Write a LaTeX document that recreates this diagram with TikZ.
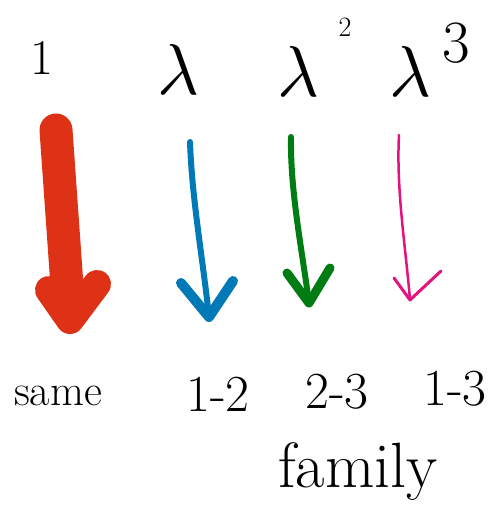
\documentclass[tikz,border=0pt]{standalone}
\usepackage{fontspec}
\usepackage{tikz}
\definecolor{cred}{RGB}{222,50,22}
\definecolor{cblue}{RGB}{0,122,182}
\definecolor{cgreen}{RGB}{0,125,18}
\definecolor{cpink}{RGB}{228,18,126}
\tikzset{
  lbl/.style={inner sep=0pt, font=\fontsize{52}{58}\selectfont},
  toplbl/.style={inner sep=0pt, font=\fontsize{50}{56}\selectfont},
  lam/.style={inner sep=0pt, scale=7.2},
  supl/.style={inner sep=0pt, font=\fontsize{28}{32}\selectfont},
  arr/.style={line cap=round, line join=round},
}
\begin{document}
\begin{tikzpicture}[x=1pt,y=-1pt]
\useasboundingbox (0,0) rectangle (497,508);
% top labels
\node[toplbl] (t1) at (42,58) {1};
\node[lam] (t2) at (178,70) {$\lambda$};
\node[lam] (t3) at (298,72) {$\lambda$};
\node[supl] (t3s) at (345,27) {2};
\node[lam] (t4) at (410,72) {$\lambda$};
\node[supl,font=\fontsize{60}{66}\selectfont] (t4s) at (456,43) {3};
% red arrow
\coordinate (r1) at (56,130);
\coordinate (r2) at (70,320);
\coordinate (rl) at (49,290);
\coordinate (rr) at (97,284);
\draw[arr, cred, line width=33pt] (r1) -- (68,300);
\draw[arr, cred, line width=28pt] (rl) -- (r2) -- (rr);
% blue arrow
\coordinate (b1) at (190,142);
\coordinate (b2) at (209,317);
\coordinate (bl) at (181,283);
\coordinate (br) at (233,281);
\draw[arr, cblue, line width=6pt] (b1) .. controls (192,200) and (203,260) .. (b2);
\draw[arr, cblue, line width=10pt] (bl) -- (b2) -- (br);
% green arrow
\coordinate (g1) at (291,137);
\coordinate (g2) at (309,303);
\coordinate (gl) at (287,273);
\coordinate (gr) at (330,268);
\draw[arr, cgreen, line width=6pt] (g1) .. controls (290,190) and (302,250) .. (g2);
\draw[arr, cgreen, line width=9pt] (gl) -- (g2) -- (gr);
% pink arrow
\coordinate (p1) at (399,135);
\coordinate (p2) at (410,300);
\coordinate (pl) at (394,278);
\coordinate (pr) at (441,271);
\draw[arr, cpink, line width=2.5pt] (p1) .. controls (396,190) and (406,250) .. (p2);
\draw[arr, cpink, line width=3pt] (pl) -- (p2) -- (pr);
% bottom labels
\node[lbl, font=\fontsize{44}{50}\selectfont] (s) at (58,396) {same};
\node[lbl] (a) at (218,394) {1-2};
\node[lbl] (b) at (337,392) {2-3};
\node[lbl] (c) at (455,389) {1-3};
\node[lbl, font=\fontsize{64}{70}\selectfont] (f) at (358,472) {family};
\end{tikzpicture}
\end{document}
